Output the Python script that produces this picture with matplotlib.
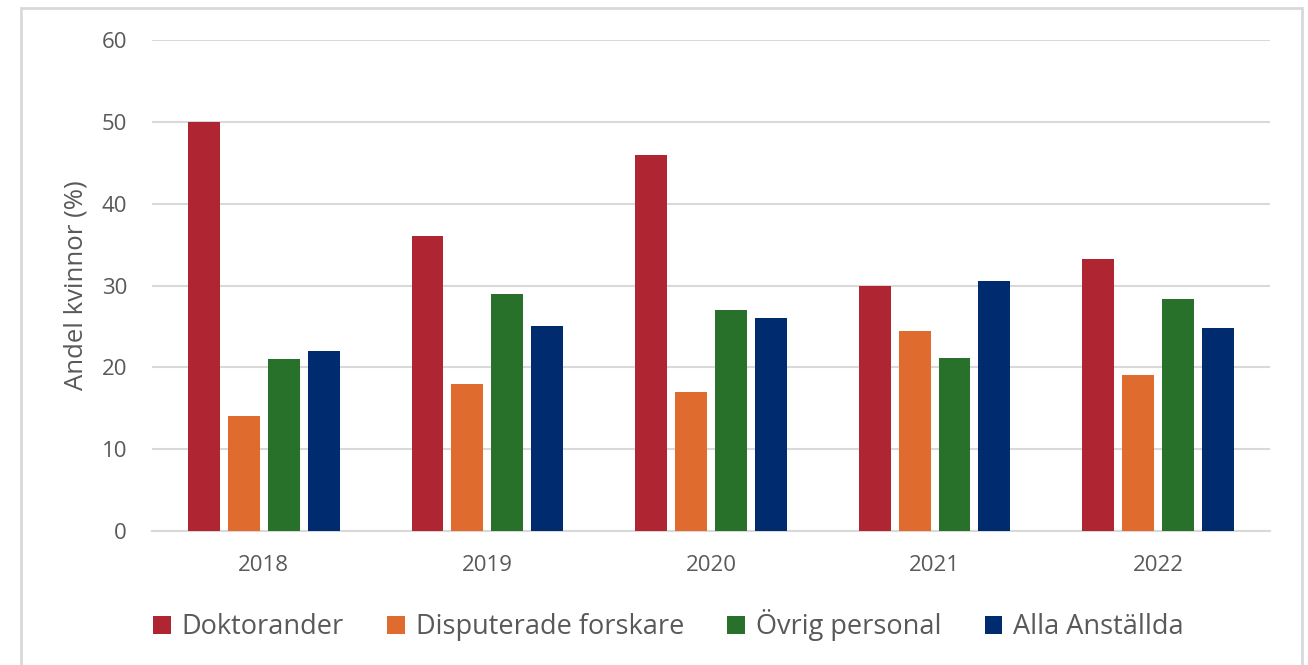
import numpy as np
import matplotlib.pyplot as plt
from matplotlib.patches import Rectangle

years = ['2018', '2019', '2020', '2021', '2022']
doktorander = [50, 36, 46, 30, 33.3]
disputerade = [14, 18, 17, 24.5, 19.1]
ovrig = [21, 29, 27, 21.2, 28.3]
alla = [22, 25, 26, 30.6, 24.8]

series = [
    ('Doktorander', doktorander, '#B02532'),
    ('Disputerade forskare', disputerade, '#DF6B2F'),
    ('Övrig personal', ovrig, '#28712A'),
    ('Alla Anställda', alla, '#002C6F'),
]

plt.rcParams['font.family'] = ['Open Sans', 'DejaVu Sans']
text_color = '#595959'
grid_color = '#d9d9d9'

fig = plt.figure(figsize=(13.08, 6.65), dpi=100)
ax = fig.add_axes([0.1162, 0.2015, 0.8547, 0.7383])

x = np.arange(len(years))
pitch = 40 / 224
width = 32 / 224
for i, (name, vals, col) in enumerate(series):
    ax.bar(x + (i - 1.5) * pitch, vals, width=width, color=col, label=name, zorder=3)

ax.set_xlim(-0.5, len(years) - 0.5)
ax.set_ylim(0, 60)
ax.set_yticks(range(0, 61, 10))
ax.set_xticks(x)
ax.set_xticklabels(years)
ax.grid(axis='y', color=grid_color, linewidth=1.5, zorder=0)
for s in ['top', 'right', 'left']:
    ax.spines[s].set_visible(False)
ax.spines['bottom'].set_color(grid_color)
ax.spines['bottom'].set_linewidth(1.5)
ax.tick_params(length=0, labelsize=16, colors=text_color)
ax.tick_params(axis='x', pad=17)
ax.tick_params(axis='y', pad=18)
ax.set_ylabel('Andel kvinnor (%)', fontsize=18.5, color=text_color, labelpad=9)

fig.legend(loc='center', bbox_to_anchor=(0.511, 0.06), ncol=4, frameon=False,
           fontsize=19.5, handlelength=0.65, handleheight=0.65, columnspacing=1.6,
           handletextpad=0.4, labelcolor=text_color)

# outer frame
fig.patches.append(Rectangle((21 / 1308, -0.01), (1302 - 21) / 1308, 1 - 8 / 665 + 0.01,
                             transform=fig.transFigure, fill=False,
                             edgecolor=grid_color, linewidth=2))

fig.savefig('out.png', dpi=100)
